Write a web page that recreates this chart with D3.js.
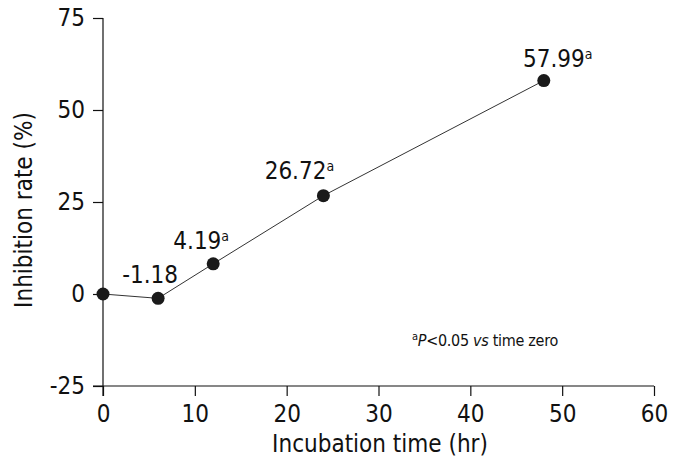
<!DOCTYPE html>
<html><head><meta charset="utf-8">
<script src="https://cdn.jsdelivr.net/npm/d3@7"></script>
<style>
body{margin:0;background:#fff;}
text{font-family:"DejaVu Sans Condensed","Noto Sans",sans-serif;fill:#111;}
</style></head>
<body>
<svg id="c" width="682" height="470"></svg>
<script>
const times = [0, 6, 12, 24, 48];
const inhibition = [0, -1.18, 8.2, 26.72, 57.99];
const pointLabels = ["", "-1.18", "4.19", "26.72", "57.99"];
const significant = [false, false, true, true, true];
const xTicks = [0, 10, 20, 30, 40, 50, 60];
const yTicks = [-25, 0, 25, 50, 75];

const svg = d3.select("#c");
const x = d3.scaleLinear().domain([0, 60]).range([103, 654]);
const y = d3.scaleLinear().domain([-25, 75]).range([386, 18]);

// axes
const xAxis = svg.append("g").attr("transform", "translate(0,386)")
  .call(d3.axisBottom(x).tickValues(xTicks).tickFormat(d => String(d)).tickSize(10).tickPadding(9).tickSizeOuter(0));
const yAxis = svg.append("g").attr("transform", "translate(103,0)")
  .call(d3.axisLeft(y).tickValues(yTicks).tickFormat(d => String(d)).tickSize(10).tickPadding(8).tickSizeOuter(0));
[xAxis, yAxis].forEach(g => {
  g.select(".domain").remove();
  g.selectAll("line").attr("stroke", "#111").attr("stroke-width", 1.2);
  g.selectAll("text").attr("font-size", 24).attr("font-family", null).attr("fill", "#111");
});
// axis lines (crossing at corner)
svg.append("line").attr("x1", 93).attr("x2", x(60)).attr("y1", 386).attr("y2", 386)
  .attr("stroke", "#111").attr("stroke-width", 1.2);
svg.append("line").attr("x1", 103).attr("x2", 103).attr("y1", y(75)).attr("y2", 396)
  .attr("stroke", "#111").attr("stroke-width", 1.2);

// axis titles
svg.append("text").attr("x", 380).attr("y", 452).attr("text-anchor", "middle")
  .attr("font-size", 24).text("Incubation time (hr)");
svg.append("text").attr("transform", "translate(32,210) rotate(-90)")
  .attr("text-anchor", "middle").attr("font-size", 24).text("Inhibition rate (%)");

// line + points
const data = times.map((t, i) => ({t, v: inhibition[i], label: pointLabels[i], sig: significant[i]}));
svg.append("path").datum(data)
  .attr("d", d3.line().x(d => x(d.t)).y(d => y(d.v)))
  .attr("fill", "none").attr("stroke", "#333").attr("stroke-width", 1);
svg.selectAll("circle.pt").data(data).join("circle")
  .attr("class", "pt").attr("cx", d => x(d.t)).attr("cy", d => y(d.v)).attr("r", 6.5)
  .attr("fill", "#1a1a1a");

// point labels
const labelDx = [0, -8, -12, -24, 14];
const labelDy = [0, -15, -15, -17, -14];
data.forEach((d, i) => {
  if (!d.label) return;
  const t = svg.append("text").attr("x", x(d.t) + labelDx[i]).attr("y", y(d.v) + labelDy[i])
    .attr("text-anchor", "middle").attr("font-size", 24);
  t.append("tspan").text(d.label);
  if (d.sig) t.append("tspan").attr("font-size", 14).attr("dy", -8).text("a");
});

// footnote
const fn = svg.append("text").attr("x", 412).attr("y", 346).attr("font-size", 16)
  .attr("letter-spacing", -0.3);
fn.append("tspan").attr("font-size", 11).attr("dy", -6).text("a");
fn.append("tspan").attr("dy", 6).attr("font-style", "italic").text("P");
fn.append("tspan").text("<0.05 ");
fn.append("tspan").attr("font-style", "italic").text("vs");
fn.append("tspan").text(" time zero");
</script>
</body></html>
